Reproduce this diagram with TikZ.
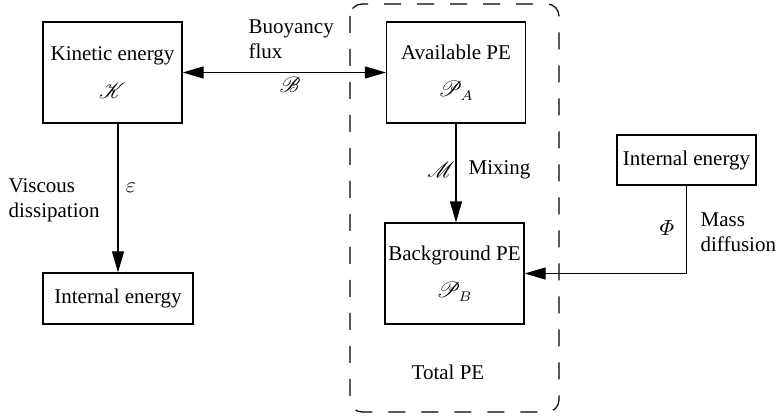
\documentclass[tikz,border=0pt]{standalone}
\usepackage{fontspec}
\setmainfont{Liberation Serif}
\usepackage{amsmath}
\usepackage{mathrsfs}
\usetikzlibrary{arrows.meta}

\begin{document}
\begin{tikzpicture}[x=0.5pt,y=-0.5pt,font=\fontsize{10.5}{12.6}\selectfont,
  line width=0.6pt,>={Triangle[length=10.5pt,width=6pt]},
  box/.style={draw,inner sep=1pt,align=center,minimum width=69.5pt,minimum height=50.5pt},
  lbl/.style={inner sep=0pt,align=left}]
\useasboundingbox (0,0) rectangle (778,417);
% total PE region
\draw[dash pattern=on 8.5pt off 8pt,rounded corners=6pt] (350,4) rectangle (559,412);
\node[box] (kin) at (112.5,72.5) {Kinetic energy\\[6pt]$\mathscr{K}$};
\node[box] (ape) at (456,72.5) {Available PE\\[6pt]$\mathscr{P}_A$};
\node[box] (bpe) at (454.5,273.5) {Background PE\\[6pt]$\mathscr{P}_B$};
\node[box,minimum width=75pt,minimum height=25.5pt] (ie1) at (118,298.5) {Internal energy};
\node[box,minimum height=25pt] (ie2) at (686.5,160) {Internal energy};
% fluxes
\draw[<->] (kin) -- (ape);
\draw[->] (kin.south -| ie1.north) -- (ie1.north);
\draw[->] (ape.south) -- (ape.south |- bpe.north);
\draw[->] (ie2.south) |- (bpe.east);
% labels
\node[lbl,anchor=west] (buoy) at (248,39) {Buoyancy\\flux};
\node (bflux) at (290,85) {$\mathscr{B}$};
\node[lbl,anchor=west] (visc) at (8,200) {Viscous\\dissipation};
\node (eps) at (131,188) {$\varepsilon$};
\node (mix) at (441,170) {$\mathscr{M}$};
\node[lbl,anchor=west] (mixing) at (468,170) {Mixing};
\node (phi) at (667,228) {$\varPhi$};
\node[lbl,anchor=west] (diff) at (700,232) {Mass\\diffusion};
\node (tot) at (448,372) {Total PE};
\end{tikzpicture}
\end{document}
